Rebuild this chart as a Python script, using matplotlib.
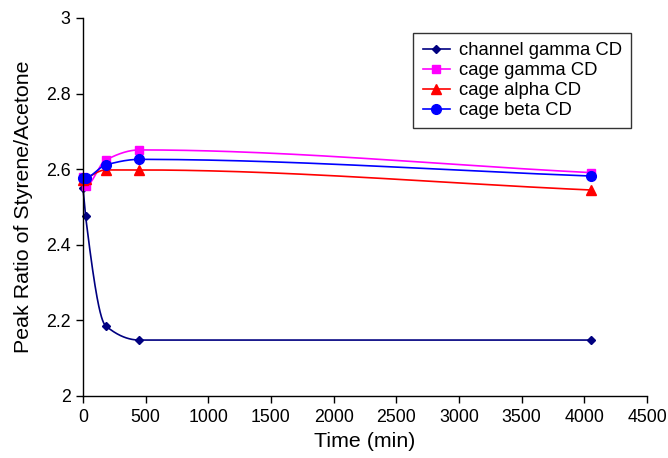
import numpy as np
import matplotlib.pyplot as plt
from matplotlib.lines import Line2D

plt.rcParams['font.family'] = ['Liberation Sans', 'DejaVu Sans']

tempo = [0, 20, 180, 450, 4050]
channel_gamma = [2.550, 2.477, 2.186, 2.148, 2.148]
cage_gamma = [2.579, 2.555, 2.624, 2.651, 2.591]
cage_alpha = [2.572, 2.575, 2.598, 2.598, 2.545]
cage_beta = [2.578, 2.578, 2.611, 2.626, 2.582]

series = [
    ('channel gamma CD', channel_gamma, '#000080', 'D', 4.5),
    ('cage gamma CD', cage_gamma, '#FF00FF', 's', 6),
    ('cage alpha CD', cage_alpha, '#FF0000', '^', 7),
    ('cage beta CD', cage_beta, '#0000FF', 'o', 7),
]


def derivadas(x, y):
    # Fritsch-Carlson (monotona), para a curva nao dar voltas
    h = np.diff(x)
    d = np.diff(y) / h
    n = len(x)
    m = np.zeros(n)
    for i in range(1, n - 1):
        if d[i - 1] * d[i] <= 0:
            m[i] = 0.0
        else:
            w1 = 2 * h[i] + h[i - 1]
            w2 = h[i] + 2 * h[i - 1]
            m[i] = (w1 + w2) / (w1 / d[i - 1] + w2 / d[i])
    m[0] = d[0]
    m[-1] = d[-1]
    return m


def curva_suave(x, y, n=60):
    x = np.array(x, float)
    y = np.array(y, float)
    m = derivadas(x, y)
    sx, sy = [x[0]], [y[0]]
    for i in range(len(x) - 1):
        h = x[i + 1] - x[i]
        t = np.linspace(0, 1, n)[1:]
        h00 = 2 * t ** 3 - 3 * t ** 2 + 1
        h10 = t ** 3 - 2 * t ** 2 + t
        h01 = -2 * t ** 3 + 3 * t ** 2
        h11 = t ** 3 - t ** 2
        sx.extend(x[i] + t * h)
        sy.extend(h00 * y[i] + h10 * h * m[i] + h01 * y[i + 1] + h11 * h * m[i + 1])
    return np.array(sx), np.array(sy)


fig = plt.figure(figsize=(6.68, 4.58), dpi=100)
ax = fig.add_axes([83 / 668, 62 / 458, 564 / 668, 378 / 458])

handles = []
for nome, valores, cor, marcador, tam in series:
    sx, sy = curva_suave(tempo, valores)
    ax.plot(sx, sy, color=cor, linewidth=1.2, clip_on=False)
    ax.plot(tempo, valores, linestyle='none', marker=marcador, markersize=tam,
            color=cor, clip_on=False)
    handles.append(Line2D([0], [0], color=cor, linewidth=1.2, marker=marcador,
                          markersize=tam))

ax.set_xlim(0, 4500)
ax.set_ylim(2, 3)
ax.set_xticks(np.arange(0, 4501, 500))
ax.set_yticks([2, 2.2, 2.4, 2.6, 2.8, 3])
ax.set_yticklabels(['2', '2.2', '2.4', '2.6', '2.8', '3'])
ax.tick_params(direction='out', length=5, width=1, labelsize=12.8, colors='black',
               pad=4)
ax.spines['top'].set_visible(False)
ax.spines['right'].set_visible(False)
ax.spines['left'].set_linewidth(1)
ax.spines['bottom'].set_linewidth(1)

ax.set_xlabel('Time (min)', fontsize=15.4, labelpad=5)
ax.set_ylabel('Peak Ratio of Styrene/Acetone', fontsize=15.4, labelpad=9)

leg = ax.legend(handles, [s[0] for s in series], loc='upper right',
                bbox_to_anchor=(631 / 668, 1 - 33 / 458),
                bbox_transform=fig.transFigure, fontsize=13.3, frameon=True,
                fancybox=False, edgecolor='black', handlelength=1.5,
                handletextpad=0.45, borderpad=0.5, labelspacing=0.16,
                borderaxespad=0)
leg.get_frame().set_linewidth(1)

fig.savefig('out.png', dpi=100)
